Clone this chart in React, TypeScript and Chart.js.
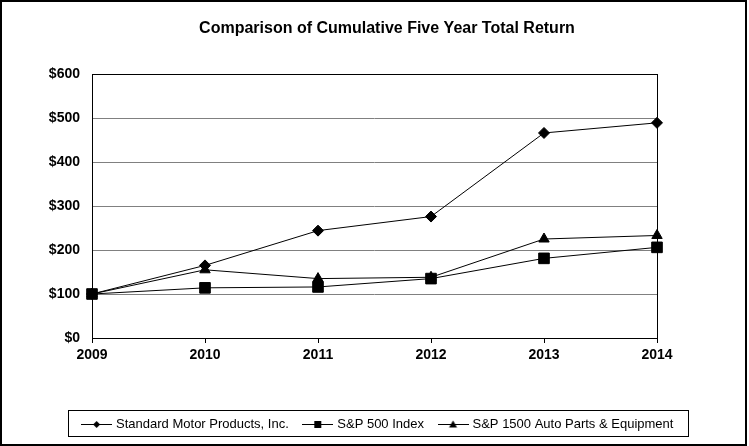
import { useEffect, useRef } from "react";
import { Chart, registerables } from "chart.js";

Chart.register(...registerables);

const TITLE = "Comparison of Cumulative Five Year Total Return";
const YEARS = ["2009", "2010", "2011", "2012", "2013", "2014"];
const SERIES_NAMES = [
  "Standard Motor Products, Inc.",
  "S&P 500 Index",
  "S&P 1500 Auto Parts & Equipment",
];
const SMP = [100, 165, 244, 276, 466, 489];
const SP500 = [100, 114, 116, 135, 181, 206];
const AUTO_PARTS = [100, 155, 135, 138, 225, 233];
const Y_MAX = 600;
const Y_STEP = 100;

const FONT = "'Liberation Sans', Arial, sans-serif";

// small line+marker swatch for the legend, like the Excel-style key
function makeSwatch(kind: string) {
  const c = document.createElement("canvas");
  c.width = 31;
  c.height = 11;
  const g = c.getContext("2d")!;
  g.strokeStyle = "#000";
  g.fillStyle = "#000";
  g.lineWidth = 1;
  g.beginPath();
  g.moveTo(0, 5.5);
  g.lineTo(31, 5.5);
  g.stroke();
  const cx = 15.5;
  const cy = 5.5;
  g.beginPath();
  if (kind === "diamond") {
    g.moveTo(cx, cy - 3.5);
    g.lineTo(cx + 3.5, cy);
    g.lineTo(cx, cy + 3.5);
    g.lineTo(cx - 3.5, cy);
  } else if (kind === "square") {
    g.rect(cx - 3.5, cy - 3.5, 7, 7);
  } else {
    g.moveTo(cx, cy - 4);
    g.lineTo(cx + 4, cy + 3);
    g.lineTo(cx - 4, cy + 3);
  }
  g.closePath();
  g.fill();
  return c;
}

const decorPlugin = {
  id: "decor",
  beforeDatasetsDraw(chart: any) {
    const { ctx, chartArea: a } = chart;
    ctx.save();
    ctx.strokeStyle = "#000";
    ctx.lineWidth = 1;
    const l = Math.round(a.left) + 0.5;
    const t = Math.round(a.top) + 0.5;
    ctx.strokeRect(l, t, Math.round(a.right) - Math.round(a.left), Math.round(a.bottom) - Math.round(a.top));
    ctx.restore();
  },
  afterDraw(chart: any) {
    const { ctx } = chart;
    ctx.save();
    // title
    ctx.fillStyle = "#000";
    ctx.font = `bold 16px ${FONT}`;
    ctx.textAlign = "center";
    ctx.textBaseline = "middle";
    ctx.fillText(TITLE, 387, 28.5);
    // legend frame
    const boxes = chart.legend?.legendHitBoxes || [];
    if (boxes.length) {
      const left = Math.min(...boxes.map((b: any) => b.left));
      const right = Math.max(...boxes.map((b: any) => b.left + b.width));
      ctx.strokeStyle = "#000";
      ctx.lineWidth = 1;
      ctx.strokeRect(Math.round(left - 16) + 0.5, 410.5, Math.round(right - left + 30), 26);
    }
    // outer frame
    ctx.lineWidth = 2;
    ctx.strokeRect(1, 1, 745, 444);
    ctx.restore();
  },
};

export default function App() {
  const canvasRef = useRef<HTMLCanvasElement>(null);
  const chartRef = useRef<Chart | null>(null);

  useEffect(() => {
    if (!canvasRef.current) return;
    chartRef.current?.destroy();

    const swatches = [makeSwatch("diamond"), makeSwatch("square"), makeSwatch("triangle")];

    chartRef.current = new Chart(canvasRef.current, {
      type: "line",
      data: {
        labels: YEARS,
        datasets: [
          {
            label: SERIES_NAMES[0],
            data: SMP,
            borderColor: "#000",
            backgroundColor: "#000",
            borderWidth: 1,
            pointStyle: "rectRot",
            pointRadius: 5.5,
          },
          {
            label: SERIES_NAMES[1],
            data: SP500,
            borderColor: "#000",
            backgroundColor: "#000",
            borderWidth: 1,
            pointStyle: "rect",
            pointRadius: 7.5,
          },
          {
            label: SERIES_NAMES[2],
            data: AUTO_PARTS,
            borderColor: "#000",
            backgroundColor: "#000",
            borderWidth: 1,
            pointStyle: "triangle",
            pointRadius: 6,
          },
        ],
      },
      options: {
        responsive: false,
        animation: false,
        layout: { padding: { top: 74, left: 8, right: 0, bottom: 5 } },
        elements: { line: { tension: 0 } },
        plugins: {
          title: { display: false },
          tooltip: { enabled: false },
          legend: {
            display: true,
            position: "bottom",
            labels: {
              color: "#000",
              font: { family: FONT, size: 13 },
              usePointStyle: true,
              pointStyleWidth: 26,
              boxHeight: 13,
              padding: 16,
              generateLabels: (chart: any) =>
                chart.data.datasets.map((ds: any, i: number) => ({
                  text: ds.label,
                  fillStyle: "#000",
                  strokeStyle: "#000",
                  lineWidth: 0,
                  pointStyle: swatches[i],
                  hidden: false,
                  datasetIndex: i,
                  fontColor: "#000",
                })),
            },
          },
        },
        scales: {
          x: {
            type: "category",
            offset: false,
            border: { display: false },
            grid: {
              drawOnChartArea: false,
              drawTicks: true,
              tickLength: 5,
              color: "#000",
            },
            ticks: {
              color: "#000",
              padding: 4,
              maxRotation: 0,
              font: { family: FONT, size: 14, weight: "bold" },
            },
            afterFit: (axis: any) => {
              axis.height = 64;
            },
          },
          y: {
            min: 0,
            max: Y_MAX,
            border: { display: false },
            grid: { color: "#808080", drawTicks: false, lineWidth: 1 },
            ticks: {
              stepSize: Y_STEP,
              color: "#000",
              padding: 12,
              font: { family: FONT, size: 14, weight: "bold" },
              callback: (v: any) => "$" + v,
            },
            afterFit: (axis: any) => {
              axis.width = 84;
            },
          },
          // empty right-hand spacer so the legend stays centred on the page
          yRight: {
            position: "right",
            min: 0,
            max: Y_MAX,
            border: { display: false },
            grid: { drawOnChartArea: false, drawTicks: false },
            ticks: { display: false },
            afterFit: (axis: any) => {
              axis.width = 92;
            },
          },
        },
      },
      plugins: [decorPlugin],
    });

    return () => {
      chartRef.current?.destroy();
      chartRef.current = null;
    };
  }, []);

  return (
    <div style={{ position: "fixed", left: 0, top: 0, width: 749, height: 446, background: "#fff" }}>
      <canvas ref={canvasRef} width={749} height={446} />
    </div>
  );
}
